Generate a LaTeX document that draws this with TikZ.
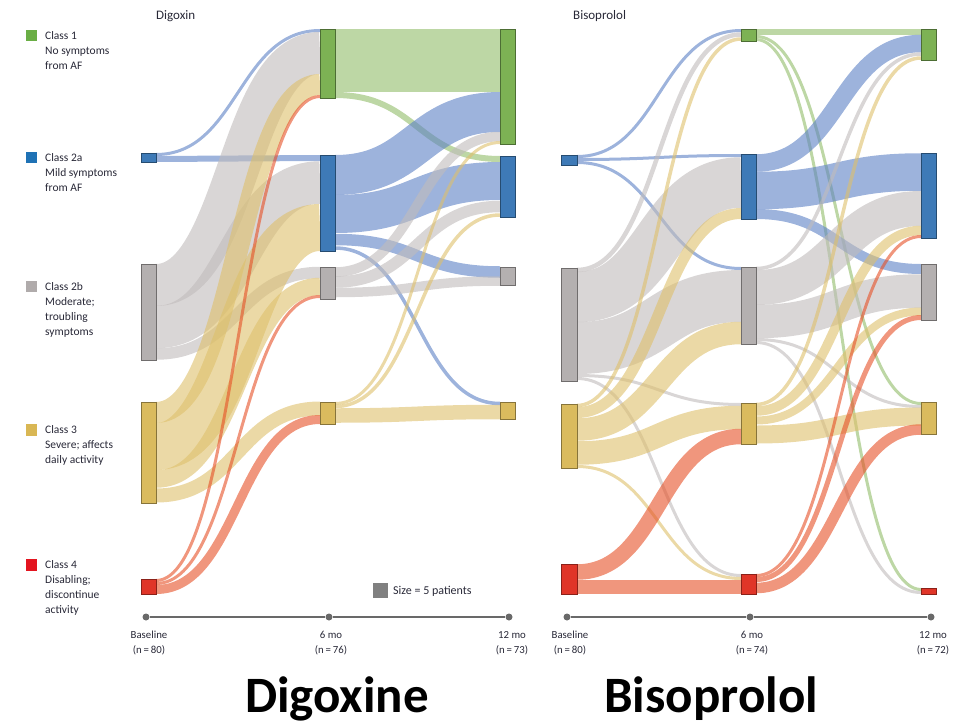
\documentclass[tikz,border=0pt]{standalone}
\usepackage{fontspec}
\setmainfont{Carlito}
\definecolor{txt}{RGB}{40,40,55}
\definecolor{bgreen}{RGB}{125,178,84}
\definecolor{bblue}{RGB}{62,122,183}
\definecolor{bgray}{RGB}{180,176,176}
\definecolor{byellow}{RGB}{218,187,94}
\definecolor{bred}{RGB}{224,53,40}
\definecolor{lgreen}{RGB}{106,174,69}
\definecolor{lblue}{RGB}{31,114,181}
\definecolor{lgray}{RGB}{176,171,171}
\definecolor{lyellow}{RGB}{217,183,84}
\definecolor{lred}{RGB}{227,20,31}
\definecolor{fgreen}{RGB}{145,188,105}
\definecolor{fblue}{RGB}{92,128,197}
\definecolor{fgray}{RGB}{192,187,187}
\definecolor{fyellow}{RGB}{222,192,107}
\definecolor{fred}{RGB}{230,80,38}
\definecolor{axisc}{RGB}{105,105,105}
\tikzset{
  bar/.style={draw=#1!62!black, fill=#1, line width=0.8pt, inner sep=0pt, outer sep=0pt},
  band/.style={draw=#1, draw opacity=0.6, line cap=butt},
  legsq/.style={fill=#1, minimum size=11.5pt, inner sep=0pt},
  legtext/.style={anchor=north west, align=left, inner sep=0pt, text=txt, font=\fontsize{11.5}{15}\selectfont},
  axtext/.style={align=center, inner sep=0pt, text=txt, font=\fontsize{10.8}{15.5}\selectfont},
  axdot/.style={circle, fill=axisc, minimum size=7pt, inner sep=0pt},
  axline/.style={draw=axisc, line width=1.6pt},
  ttl/.style={anchor=west, inner sep=0pt, text=txt, font=\fontsize{13}{15}\selectfont},
  big/.style={anchor=base, inner sep=0pt, text=black, font=\fontsize{51}{58}\selectfont\bfseries}
}
\newcommand{\barn}[6]{\node[bar=#2, anchor=north west, minimum width={#5-#3}, minimum height={#6-#4}] (#1) at (#3,#4) {};}
\newcommand{\fl}[7]{\draw[band=#1, line width={((#4-#3)+(#7-#6))/2}] (#2,{(#3+#4)/2}) .. controls ({(#2+#5)/2},{(#3+#4)/2}) and ({(#2+#5)/2},{(#6+#7)/2}) .. (#5,{(#6+#7)/2});}
\begin{document}
\begin{tikzpicture}[x=1pt,y=-1pt]
\useasboundingbox (0,0) rectangle (965,725);
% ---------- Digoxin flows: baseline -> 6 mo ----------
\fl{fblue}{156}{153}{156}{320}{29}{32}
\fl{fblue}{156}{156}{162}{320}{155}{161}
\fl{fgray}{156}{264}{306}{320}{32}{74}
\fl{fgray}{156}{306}{348}{320}{161}{204}
\fl{fgray}{156}{348}{360}{320}{267}{278}
\fl{fyellow}{156}{402}{423}{320}{74}{95}
\fl{fyellow}{156}{423}{470}{320}{204}{251}
\fl{fyellow}{156}{470}{488}{320}{278}{295}
\fl{fyellow}{156}{488}{503}{320}{402}{415}
\fl{fred}{156}{579}{582}{320}{95}{98}
\fl{fred}{156}{582}{585}{320}{295}{298}
\fl{fred}{156}{585}{594}{320}{415}{424}
% ---------- Digoxin flows: 6 mo -> 12 mo ----------
\fl{fgreen}{335}{29}{92}{500}{29}{92}
\fl{fgreen}{335}{92}{98}{500}{156}{162}
\fl{fblue}{335}{155}{195}{500}{92}{132}
\fl{fblue}{335}{195}{233}{500}{162}{200}
\fl{fblue}{335}{233}{246}{500}{267}{277}
\fl{fblue}{335}{246}{250}{500}{402}{405}
\fl{fgray}{335}{267}{277}{500}{132}{141}
\fl{fgray}{335}{277}{287}{500}{200}{213}
\fl{fgray}{335}{287}{298}{500}{277}{285}
\fl{fyellow}{335}{402}{405}{500}{141}{144}
\fl{fyellow}{335}{405}{408}{500}{213}{217}
\fl{fyellow}{335}{408}{423}{500}{405}{419}
% ---------- Bisoprolol flows: baseline -> 6 mo ----------
\fl{fblue}{577}{155}{158}{741}{29}{32}
\fl{fblue}{577}{158}{161}{741}{154}{157}
\fl{fblue}{577}{161}{164}{741}{267}{270}
\fl{fgray}{577}{268}{272}{741}{32}{37}
\fl{fgray}{577}{272}{322}{741}{157}{208}
\fl{fgray}{577}{322}{374}{741}{270}{322}
\fl{fgray}{577}{374}{377}{741}{403}{406}
\fl{fgray}{577}{377}{380}{741}{574}{577}
\fl{fyellow}{577}{404}{407}{741}{37}{41}
\fl{fyellow}{577}{407}{418}{741}{208}{219}
\fl{fyellow}{577}{418}{441}{741}{322}{344}
\fl{fyellow}{577}{441}{465}{741}{406}{429}
\fl{fyellow}{577}{465}{468}{741}{577}{580}
\fl{fred}{577}{564}{580}{741}{429}{444}
\fl{fred}{577}{580}{594}{741}{580}{594}
% ---------- Bisoprolol flows: 6 mo -> 12 mo ----------
\fl{fgreen}{756}{29}{35}{921}{29}{35}
\fl{fgreen}{756}{35}{38}{921}{402}{405}
\fl{fgreen}{756}{38}{41}{921}{588}{591}
\fl{fblue}{756}{154}{172}{921}{35}{52}
\fl{fblue}{756}{172}{209}{921}{153}{191}
\fl{fblue}{756}{209}{219}{921}{264}{274}
\fl{fgray}{756}{267}{270}{921}{52}{56}
\fl{fgray}{756}{270}{305}{921}{191}{226}
\fl{fgray}{756}{305}{338}{921}{274}{308}
\fl{fgray}{756}{338}{341}{921}{405}{408}
\fl{fgray}{756}{341}{344}{921}{591}{594}
\fl{fyellow}{756}{403}{406}{921}{56}{60}
\fl{fyellow}{756}{406}{416}{921}{226}{235}
\fl{fyellow}{756}{416}{425}{921}{308}{315}
\fl{fyellow}{756}{425}{444}{921}{408}{425}
\fl{fred}{756}{574}{577}{921}{235}{238}
\fl{fred}{756}{577}{582}{921}{315}{320}
\fl{fred}{756}{582}{594}{921}{425}{434}
% ---------- Digoxin bars ----------
\barn{dB2a}{bblue}{141}{153}{156}{162}
\barn{dB2b}{bgray}{141}{264}{156}{360}
\barn{dB3}{byellow}{141}{402}{156}{503}
\barn{dB4}{bred}{141}{579}{156}{594}
\barn{dM1}{bgreen}{320}{29}{335}{98}
\barn{dM2a}{bblue}{320}{155}{335}{251}
\barn{dM2b}{bgray}{320}{267}{335}{299}
\barn{dM3}{byellow}{320}{402}{335}{424}
\barn{dE1}{bgreen}{500}{29}{515}{144}
\barn{dE2a}{bblue}{500}{156}{515}{217}
\barn{dE2b}{bgray}{500}{267}{515}{285}
\barn{dE3}{byellow}{500}{402}{515}{419}
% ---------- Bisoprolol bars ----------
\barn{bB2a}{bblue}{561}{155}{577}{165}
\barn{bB2b}{bgray}{561}{268}{577}{381}
\barn{bB3}{byellow}{561}{404}{577}{468}
\barn{bB4}{bred}{561}{564}{577}{594}
\barn{bM1}{bgreen}{741}{29}{756}{41}
\barn{bM2a}{bblue}{741}{154}{756}{219}
\barn{bM2b}{bgray}{741}{267}{756}{344}
\barn{bM3}{byellow}{741}{403}{756}{444}
\barn{bM4}{bred}{741}{574}{756}{594}
\barn{bE1}{bgreen}{921}{29}{936}{60}
\barn{bE2a}{bblue}{921}{153}{936}{238}
\barn{bE2b}{bgray}{921}{264}{936}{320}
\barn{bE3}{byellow}{921}{402}{936}{434}
\barn{bE4}{bred}{921}{588}{936}{594}
% ---------- titles ----------
\node[ttl] (tD) at (156,16) {Digoxin};
\node[ttl] (tB) at (573,16) {Bisoprolol};
% ---------- legend ----------
\node[legsq=lgreen] (q1) at (31.5,35.5) {};
\node[legtext] (lt1) at (45,31) {Class 1\\No symptoms\\from AF};
\node[legsq=lblue] (q2) at (31.5,157.5) {};
\node[legtext] (lt2) at (45,153) {Class 2a\\Mild symptoms\\from AF};
\node[legsq=lgray] (q3) at (31.5,286.5) {};
\node[legtext] (lt3) at (45,282) {Class 2b\\Moderate;\\troubling\\symptoms};
\node[legsq=lyellow] (q4) at (31.5,430) {};
\node[legtext] (lt4) at (45,425.5) {Class 3\\Severe; affects\\daily activity};
\node[legsq=lred] (q5) at (31.5,565) {};
\node[legtext] (lt5) at (45,560.5) {Class 4\\Disabling;\\discontinue\\activity};
% ---------- size key ----------
\node[fill=axisc!85!white, minimum size=15pt, inner sep=0pt] (sz) at (380.5,590.5) {};
\node[anchor=west, inner sep=0pt, text=txt, font=\fontsize{12}{14}\selectfont] (szt) at (393,591) {Size = 5 patients};
% ---------- axes ----------
\node[axdot] (a0) at (146,617) {};
\node[axdot] (a1) at (329,617) {};
\node[axdot] (a2) at (509,617) {};
\draw[axline] (a0) -- (a1);
\draw[axline] (a1) -- (a2);
\node[axdot] (b0) at (567,617) {};
\node[axdot] (b1) at (750,617) {};
\node[axdot] (b2) at (931,617) {};
\draw[axline] (b0) -- (b1);
\draw[axline] (b1) -- (b2);
\node[axtext] (la0) at (149,643) {Baseline\\(n\,=\,80)};
\node[axtext] (la1) at (331,643) {6 mo\\(n\,=\,76)};
\node[axtext] (la2) at (512,643) {12 mo\\(n\,=\,73)};
\node[axtext] (lb0) at (570,643) {Baseline\\(n\,=\,80)};
\node[axtext] (lb1) at (752,643) {6 mo\\(n\,=\,74)};
\node[axtext] (lb2) at (933,643) {12 mo\\(n\,=\,72)};
% ---------- big labels ----------
\node[big] (gD) at (337,712) {Digoxine};
\node[big] (gB) at (711,712) {Bisoprolol};
\end{tikzpicture}
\end{document}
